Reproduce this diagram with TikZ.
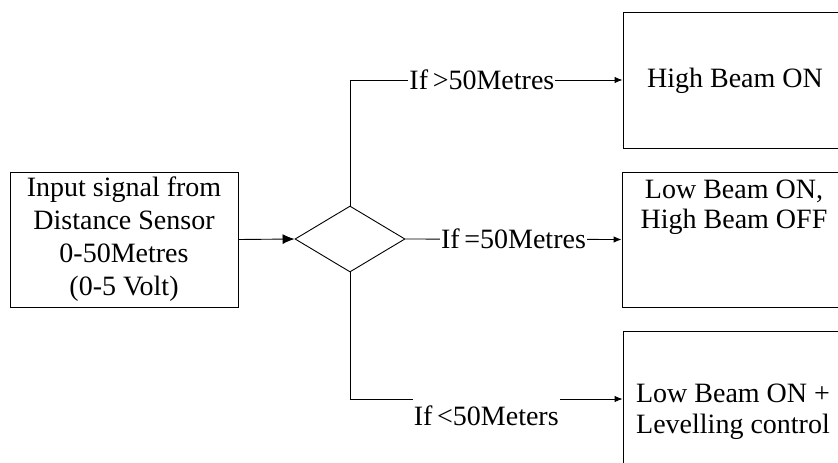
\documentclass[tikz,border=0pt]{standalone}
\usepackage{fontspec}
\setmainfont{Liberation Serif}
\usetikzlibrary{arrows.meta,shapes.geometric}
\begin{document}
\begin{tikzpicture}[x=1pt,y=-1pt, line width=0.9pt,
  txt/.style={align=center, inner sep=0pt, font=\fontsize{28}{32}\selectfont},
  arr/.style={-{Latex[length=8pt,width=6.5pt]}},
  bigarr/.style={-{Latex[length=12pt,width=10pt]}},
  lbl/.style={fill=white, inner xsep=1pt, inner ysep=1pt, font=\fontsize{28}{32}\selectfont}]
\useasboundingbox (0,0) rectangle (838,463);
% input box
\node[draw, txt, minimum width=228pt, minimum height=135pt, font=\fontsize{28}{33}\selectfont] (in) at (124,239.5)
  {Input signal from\\Distance Sensor\\0-50Metres\\(0-5 Volt)};
% decision diamond
\node[draw, diamond, aspect=1.667, minimum width=110pt, minimum height=66pt, inner sep=0pt] (d) at (350,239) {};
% output boxes
\node[draw, minimum width=224pt, minimum height=136pt, inner sep=0pt] (hb) at (735,80) {};
\node[txt] (hbt) at (735,81) {High Beam ON};
\node[draw, minimum width=225pt, minimum height=135pt, inner sep=0pt] (lb) at (734.5,239.5) {};
\node[txt, font=\fontsize{28}{30}\selectfont] (lbt) at (734,207) {Low Beam ON,\\High Beam OFF};
\node[draw, minimum width=224pt, minimum height=136pt, inner sep=0pt] (lc) at (735,399) {};
\node[txt, font=\fontsize{28}{31}\selectfont] (lct) at (733,412) {Low Beam ON +\\Levelling control};
% connectors
\draw[bigarr] (in.east) -- (d.west);
\draw[arr] (d.north) |- node[pos=0.742, lbl] (l1) {If\,>50Metres} (hb.west);
\draw[arr] (d.east) -- node[pos=0.5, lbl] (l2) {If\,=50Metres} (lb.west);
\draw[arr] (d.south) |- node[pos=0.75, anchor=north, fill=white, inner xsep=1pt, inner ysep=0pt, text height=26pt, font=\fontsize{28}{32}\selectfont] (l3) {If\,<50Meters} (lc.west);
\end{tikzpicture}
\end{document}
